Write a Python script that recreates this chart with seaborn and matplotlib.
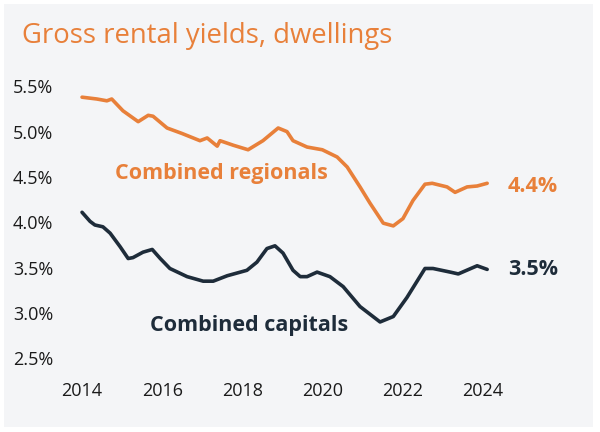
import numpy as np
import pandas as pd
import seaborn as sns
import matplotlib.pyplot as plt
from matplotlib.patches import Rectangle

# values (year, gross yield %)
regional_years = [2014.0, 2014.37, 2014.62, 2014.74, 2015.02, 2015.40, 2015.65, 2015.77,
                  2016.12, 2016.49, 2016.94, 2017.12, 2017.37, 2017.44, 2017.77, 2018.14,
                  2018.51, 2018.89, 2019.11, 2019.26, 2019.61, 2019.99, 2020.36, 2020.61,
                  2020.93, 2021.18, 2021.51, 2021.76, 2022.0, 2022.25, 2022.55, 2022.73,
                  2023.10, 2023.30, 2023.60, 2023.85, 2024.10]
regional_vals = [5.38, 5.36, 5.34, 5.36, 5.23, 5.11, 5.18, 5.17,
                 5.04, 4.98, 4.90, 4.93, 4.84, 4.90, 4.85, 4.80,
                 4.90, 5.04, 5.00, 4.90, 4.83, 4.80, 4.72, 4.61,
                 4.39, 4.21, 3.99, 3.96, 4.04, 4.24, 4.42, 4.43,
                 4.39, 4.33, 4.39, 4.40, 4.43]

capital_years = [2014.0, 2014.20, 2014.32, 2014.52, 2014.70, 2014.95, 2015.15, 2015.27,
                 2015.52, 2015.75, 2015.95, 2016.19, 2016.62, 2017.02, 2017.27, 2017.62,
                 2018.11, 2018.36, 2018.61, 2018.81, 2019.01, 2019.26, 2019.44, 2019.61,
                 2019.86, 2020.18, 2020.51, 2020.93, 2021.43, 2021.76, 2022.10, 2022.55,
                 2022.75, 2023.18, 2023.38, 2023.85, 2024.10]
capital_vals = [4.11, 4.01, 3.97, 3.95, 3.88, 3.73, 3.60, 3.61,
                3.67, 3.70, 3.60, 3.49, 3.40, 3.35, 3.35, 3.41,
                3.47, 3.56, 3.71, 3.74, 3.66, 3.47, 3.40, 3.40,
                3.45, 3.40, 3.29, 3.07, 2.90, 2.96, 3.17, 3.49,
                3.49, 3.45, 3.43, 3.52, 3.48]

series_names = ['Combined regionals', 'Combined capitals']
end_labels = ['4.4%', '3.5%']
x_ticks = [2014, 2016, 2018, 2020, 2022, 2024]
y_ticks = [2.5, 3.0, 3.5, 4.0, 4.5, 5.0, 5.5]

ORANGE = '#E8803A'
NAVY = '#1E2C3A'
BG = '#F4F5F7'

df = pd.concat([
    pd.DataFrame({'year': regional_years, 'yield': regional_vals, 'series': series_names[0]}),
    pd.DataFrame({'year': capital_years, 'yield': capital_vals, 'series': series_names[1]}),
])

sns.set_theme(style='white')
plt.rcParams['font.family'] = ['Open Sans', 'DejaVu Sans']

fig = plt.figure(figsize=(6, 4.32), dpi=100, facecolor='white')
fig.patches.append(Rectangle((4/600, 5/432), 589/600, 423/432, transform=fig.transFigure,
                             facecolor=BG, edgecolor='none', zorder=-10))
ax = fig.add_axes([70/600, 1-370/432, 430/600, 300/432])
ax.set_facecolor('none')

sns.lineplot(data=df, x='year', y='yield', hue='series', palette=[ORANGE, NAVY],
             linewidth=2.6, legend=False, ax=ax)

ax.set_xlim(2013.70, 2024.42)
ax.set_ylim(2.37, 5.68)
ax.set_xticks(x_ticks)
ax.set_yticks(y_ticks)
ax.set_xticklabels([str(t) for t in x_ticks], fontsize=13, color='#1a1a1a')
ax.set_yticklabels([f'{t:.1f}%' for t in y_ticks], fontsize=13, color='#1a1a1a')
ax.tick_params(axis='y', length=0, pad=12)
ax.tick_params(axis='x', length=0, pad=9)
ax.set_xlabel('')
ax.set_ylabel('')
sns.despine(ax=ax, left=True, bottom=True)

ax.text(2014.82, 4.54, series_names[0], color=ORANGE, fontsize=15.5, fontweight='bold',
        va='center', ha='left')
ax.text(2015.70, 2.86, series_names[1], color=NAVY, fontsize=15.5, fontweight='bold',
        va='center', ha='left')
ax.text(2024.62, 4.40, end_labels[0], color=ORANGE, fontsize=15.5, fontweight='bold',
        va='center', ha='left', clip_on=False)
ax.text(2024.62, 3.48, end_labels[1], color=NAVY, fontsize=15.5, fontweight='bold',
        va='center', ha='left', clip_on=False)

fig.text(22/600, 1-36/432, 'Gross rental yields, dwellings', color=ORANGE, fontsize=19.8,
         va='center', ha='left')

fig.savefig('out.png', dpi=100, facecolor='white')
